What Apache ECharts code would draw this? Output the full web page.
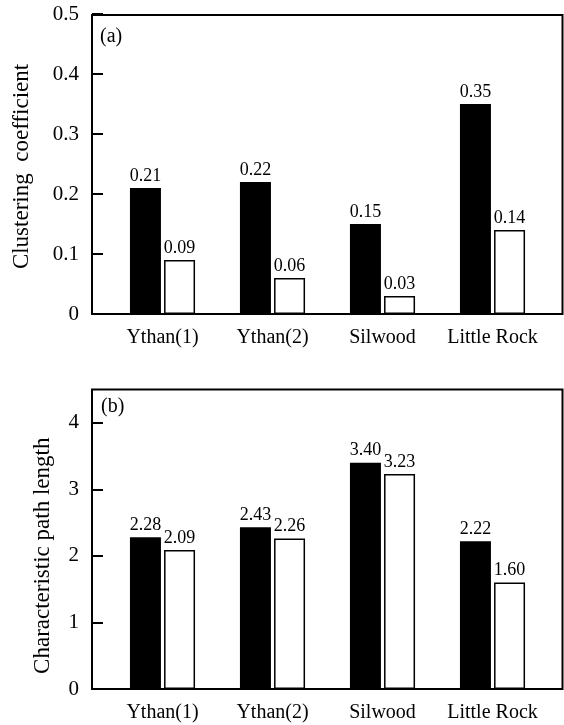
<!DOCTYPE html>
<html>
<head>
<meta charset="utf-8">
<script src="https://cdn.jsdelivr.net/npm/echarts@6/dist/echarts.min.js"></script>
<style>
html,body{margin:0;padding:0;background:#fff;}
#chart{width:564px;height:725px;}
</style>
</head>
<body>
<div id="chart"></div>
<script>
const categories = ['Ythan(1)', 'Ythan(2)', 'Silwood', 'Little Rock'];
const clusterReal = [0.21, 0.22, 0.15, 0.35];
const clusterRandom = [0.09, 0.06, 0.03, 0.14];
const pathReal = [2.28, 2.43, 3.40, 2.22];
const pathRandom = [2.09, 2.26, 3.23, 1.60];
const clusterAxis = { min: 0, max: 0.5, interval: 0.1 };
const pathAxis = { min: 0, max: 4.5, interval: 1 };

const FONT = 'Liberation Serif';
const chart = echarts.init(document.getElementById('chart'), null, { renderer: 'canvas' });

function frameGrid(top, height) {
  return { left: 92, right: 1.5, top: top, height: height, show: true,
    borderColor: '#000', borderWidth: 2, backgroundColor: 'transparent', containLabel: false };
}
function dataGrid(top, height) {
  return { left: 107.5, right: 16.5, top: top, height: height, containLabel: false };
}
const hiddenX = (g) => ({ gridIndex: g, type: 'value', show: false, min: 0, max: 1 });
const hiddenY = (g) => ({ gridIndex: g, type: 'value', show: false, min: 0, max: 1 });

function catAxis(g) {
  return {
    gridIndex: g, type: 'category', data: categories,
    axisLine: { show: false }, axisTick: { show: false },
    axisLabel: { fontFamily: FONT, fontSize: 20, color: '#000', margin: 14, interval: 0 }
  };
}
function valAxis(g, ax, name, namePad) {
  return {
    gridIndex: g, type: 'value', min: ax.min, max: ax.max, interval: ax.interval,
    offset: 15.5,
    axisLine: { show: false },
    axisTick: { show: true, inside: true, length: 11, lineStyle: { color: '#000', width: 2 } },
    splitLine: { show: false },
    axisLabel: { fontFamily: FONT, fontSize: 21, color: '#000', margin: 13, showMaxLabel: ax.max === 0.5 },
    name: name, nameLocation: 'middle', nameRotate: 90,
    nameGap: namePad.gap,
    nameTextStyle: { fontFamily: FONT, fontSize: 23, color: '#000', padding: namePad.padding }
  };
}
function labelCfg() {
  return { show: true, position: 'top', distance: 3, fontFamily: FONT, fontSize: 18, color: '#000',
    formatter: (p) => Number(p.value).toFixed(2) };
}
function realSeries(xi, yi, data) {
  return { type: 'bar', xAxisIndex: xi, yAxisIndex: yi, data: data, barWidth: 31, barGap: '10%',
    itemStyle: { color: '#000' }, label: labelCfg(), silent: true, animation: false };
}
function randSeries(xi, yi, data) {
  return { type: 'bar', xAxisIndex: xi, yAxisIndex: yi, data: data, barWidth: 31, barGap: '10%',
    itemStyle: { color: '#fff', borderColor: '#000', borderWidth: 1.5 }, label: labelCfg(),
    silent: true, animation: false };
}

chart.setOption({
  animation: false,
  backgroundColor: '#fff',
  title: [
    { text: '(a)', left: 100, top: 27, padding: 0,
      textStyle: { fontFamily: FONT, fontSize: 20, fontWeight: 'normal', color: '#000' } },
    { text: '(b)', left: 101, top: 397, padding: 0,
      textStyle: { fontFamily: FONT, fontSize: 20, fontWeight: 'normal', color: '#000' } }
  ],
  grid: [frameGrid(15, 299), dataGrid(14, 300), frameGrid(389.5, 299.5), dataGrid(389.5, 299.5)],
  xAxis: [hiddenX(0), catAxis(1), hiddenX(2), catAxis(3)],
  yAxis: [
    hiddenY(0),
    valAxis(1, clusterAxis, 'Clustering  coefficient', { gap: 59, padding: [0, 5, 0, 0] }),
    hiddenY(2),
    valAxis(3, pathAxis, 'Characteristic path length', { gap: 38, padding: [0, 33, 0, 0] })
  ],
  series: [
    realSeries(1, 1, clusterReal), randSeries(1, 1, clusterRandom),
    realSeries(3, 3, pathReal), randSeries(3, 3, pathRandom)
  ]
});
</script>
</body>
</html>
